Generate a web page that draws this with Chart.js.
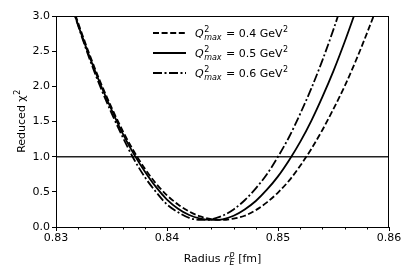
<!DOCTYPE html>
<html>
<head>
<meta charset="utf-8">
<script src="https://cdn.jsdelivr.net/npm/chart.js@4/dist/chart.umd.min.js"></script>
<style>
  html, body { margin: 0; padding: 0; background: #fff; }
  #wrap { width: 415px; height: 277px; }
</style>
</head>
<body>
<div id="wrap"><canvas id="chart" width="415" height="277"></canvas></div>
<script>
// Radius r_E^p [fm], shared by all curves
const radius = [0.831, 0.832, 0.833, 0.834, 0.835, 0.836, 0.837, 0.838, 0.839, 0.840,
                0.841, 0.842, 0.843, 0.844, 0.845, 0.846, 0.847, 0.848, 0.849, 0.850,
                0.851, 0.852, 0.853, 0.854, 0.855, 0.856, 0.857, 0.858, 0.859];

// reduced chi^2 per Q^2_max cut
const chiQ04 = [3.36, 2.90, 2.46, 2.06, 1.70, 1.37, 1.08, 0.83, 0.62, 0.45,
                0.32, 0.22, 0.15, 0.11, 0.10, 0.12, 0.16, 0.24, 0.35, 0.49,
                0.66, 0.87, 1.11, 1.38, 1.68, 2.00, 2.36, 2.75, 3.16];
const chiQ05 = [3.34, 2.87, 2.43, 2.03, 1.67, 1.33, 1.04, 0.79, 0.57, 0.39,
                0.26, 0.17, 0.12, 0.10, 0.11, 0.16, 0.25, 0.37, 0.53, 0.72,
                0.95, 1.21, 1.51, 1.85, 2.22, 2.63, 3.07];
const chiQ06 = [3.37, 2.86, 2.40, 1.99, 1.62, 1.28, 0.97, 0.71, 0.50, 0.32,
                0.21, 0.13, 0.10, 0.11, 0.16, 0.25, 0.38, 0.55, 0.75, 1.00,
                1.28, 1.61, 1.97, 2.37, 2.81, 3.29];

const legendValues = ['0.4', '0.5', '0.6'];
const refLevel = 1.0;
const xMin = 0.83, xMax = 0.86, yMin = 0, yMax = 3;

const dashes = [[6, 2.6], [], [9, 2.5, 2, 2.5]];
const FONT = '"DejaVu Sans", sans-serif';

const pts = arr => arr.map((v, i) => ({ x: radius[i], y: v }));

function curve(data, dash) {
  return {
    data: pts(data),
    borderColor: '#000',
    borderWidth: 1.8,
    borderDash: dash,
    pointRadius: 0,
    cubicInterpolationMode: 'monotone',
    clip: 0,
  };
}

const figure = {
  id: 'figure',
  afterDraw(chart) {
    const { ctx, chartArea: a, scales: { x } } = chart;
    ctx.save();

    // frame
    ctx.strokeStyle = '#000';
    ctx.lineWidth = 1;
    ctx.setLineDash([]);
    ctx.strokeRect(a.left + 0.5, a.top + 0.5, a.right - a.left - 1, a.bottom - a.top);

    // minor x ticks
    for (let v = xMin; v <= xMax + 1e-9; v += 0.002) {
      const px = Math.round(x.getPixelForValue(v)) + 0.5;
      ctx.beginPath();
      ctx.moveTo(px, a.bottom);
      ctx.lineTo(px, a.bottom + 2.5);
      ctx.stroke();
    }

    ctx.fillStyle = '#000';
    ctx.textBaseline = 'alphabetic';
    ctx.textAlign = 'left';

    // legend
    legendValues.forEach((q, i) => {
      const yRow = 33 + i * 20;
      ctx.lineWidth = 1.8;
      ctx.setLineDash(dashes[i]);
      ctx.beginPath();
      ctx.moveTo(153, yRow);
      ctx.lineTo(186, yRow);
      ctx.stroke();
      ctx.setLineDash([]);

      let tx = 195;
      const base = yRow + 4;
      ctx.font = 'italic 11px ' + FONT;
      ctx.fillText('Q', tx, base);
      tx += ctx.measureText('Q').width + 0.5;
      ctx.font = '8px ' + FONT;
      ctx.fillText('2', tx, base - 5);
      const w2 = ctx.measureText('2').width;
      ctx.font = 'italic 8px ' + FONT;
      ctx.fillText('max', tx, base + 3);
      tx += Math.max(w2, ctx.measureText('max').width) + 1;
      ctx.font = '11px ' + FONT;
      const s = ' = ' + q + ' GeV';
      ctx.fillText(s, tx, base);
      tx += ctx.measureText(s).width + 0.5;
      ctx.font = '8px ' + FONT;
      ctx.fillText('2', tx, base - 5);
    });

    // x title: Radius r_E^p [fm]
    const parts = [
      { t: 'Radius ', f: '11px ' },
      { t: 'r', f: 'italic 11px ' },
      { t: 'p', f: 'italic 8px ' },
      { t: 'E', f: 'italic 8px ' },
      { t: ' [fm]', f: '11px ' },
    ];
    parts.forEach(p => {
      ctx.font = p.f + FONT;
      p.w = ctx.measureText(p.t).width;
    });
    const total = parts[0].w + parts[1].w + Math.max(parts[2].w, parts[3].w) + parts[4].w + 1;
    let tx = (a.left + a.right) / 2 - total / 2;
    const xb = 262;
    ctx.font = parts[0].f + FONT; ctx.fillText(parts[0].t, tx, xb); tx += parts[0].w;
    ctx.font = parts[1].f + FONT; ctx.fillText(parts[1].t, tx, xb); tx += parts[1].w + 1;
    ctx.font = parts[2].f + FONT; ctx.fillText(parts[2].t, tx, xb - 5);
    ctx.font = parts[3].f + FONT; ctx.fillText(parts[3].t, tx, xb + 3);
    tx += Math.max(parts[2].w, parts[3].w);
    ctx.font = parts[4].f + FONT; ctx.fillText(parts[4].t, tx, xb);

    // y title: Reduced chi^2
    ctx.translate(25, (a.top + a.bottom) / 2);
    ctx.rotate(-Math.PI / 2);
    ctx.font = '11px ' + FONT;
    const yt = 'Reduced χ';
    const wy = ctx.measureText(yt).width;
    ctx.font = '8px ' + FONT;
    const w2 = ctx.measureText('2').width;
    const start = -(wy + w2) / 2;
    ctx.font = '11px ' + FONT;
    ctx.fillText(yt, start, 0);
    ctx.font = '8px ' + FONT;
    ctx.fillText('2', start + wy + 0.5, -5);

    ctx.restore();
  }
};

new Chart(document.getElementById('chart'), {
  type: 'line',
  data: {
    datasets: [
      curve(chiQ04, dashes[0]),
      curve(chiQ05, dashes[1]),
      curve(chiQ06, dashes[2]),
      {
        data: [{ x: xMin, y: refLevel }, { x: xMax, y: refLevel }],
        borderColor: '#222',
        borderWidth: 1.5,
        pointRadius: 0,
      },
    ]
  },
  options: {
    responsive: false,
    animation: false,
    events: [],
    layout: { padding: { left: 0, top: 16, right: 26, bottom: 0 } },
    plugins: { legend: { display: false }, tooltip: { enabled: false } },
    scales: {
      x: {
        type: 'linear',
        min: xMin, max: xMax,
        afterFit: s => { s.height = 50; },
        afterBuildTicks: s => {
          s.ticks = [0.83, 0.84, 0.85, 0.86].map(v => ({ value: v }));
        },
        ticks: {
          color: '#000',
          font: { family: FONT, size: 11 },
          padding: 1,
          maxRotation: 0,
          callback: v => v.toFixed(2),
        },
        grid: { display: true, drawOnChartArea: false, drawTicks: true, tickLength: 4, color: '#000' },
        border: { display: true, color: '#000', width: 1 },
      },
      y: {
        min: yMin, max: yMax,
        afterFit: s => { s.width = 56; },
        ticks: {
          color: '#000',
          stepSize: 0.5,
          font: { family: FONT, size: 11 },
          padding: 2,
          callback: v => v.toFixed(1),
        },
        grid: { display: true, drawOnChartArea: false, drawTicks: true, tickLength: 4, color: '#000' },
        border: { display: true, color: '#000', width: 1 },
      }
    }
  },
  plugins: [figure]
});
</script>
</body>
</html>
